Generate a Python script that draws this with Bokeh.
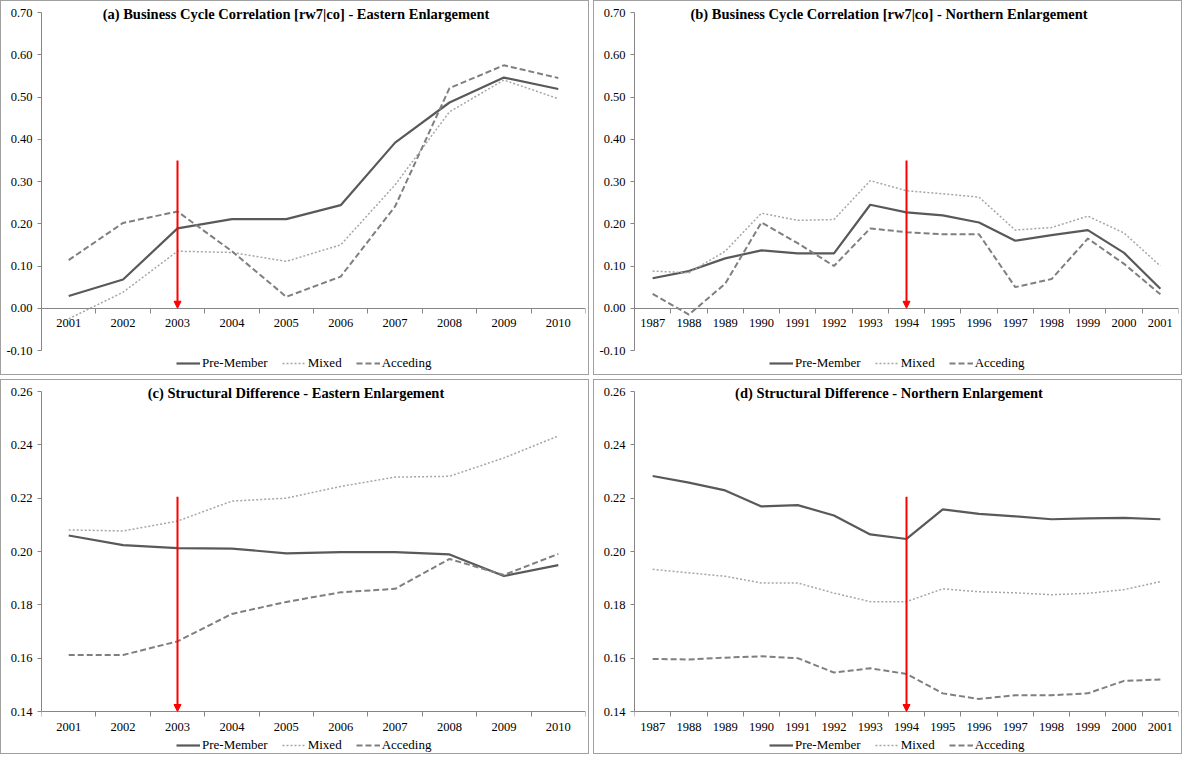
from bokeh.plotting import figure
from bokeh.models import (Range1d, FixedTicker, NumeralTickFormatter, Legend, LegendItem,
                          Label, Arrow, NormalHead, InlineStyleSheet)
from bokeh.layouts import row, column
from bokeh.embed import file_html
from bokeh.resources import INLINE

# ---------------- data ----------------
east_years = ["2001", "2002", "2003", "2004", "2005", "2006", "2007", "2008", "2009", "2010"]
north_years = ["1987", "1988", "1989", "1990", "1991", "1992", "1993", "1994",
               "1995", "1996", "1997", "1998", "1999", "2000", "2001"]

# (a) Business cycle correlation - Eastern enlargement
bc_east_pre = [0.029, 0.068, 0.189, 0.211, 0.211, 0.244, 0.392, 0.487, 0.546, 0.519]
bc_east_mixed = [-0.025, 0.038, 0.135, 0.132, 0.111, 0.150, 0.292, 0.465, 0.540, 0.496]
bc_east_acc = [0.114, 0.202, 0.229, 0.135, 0.027, 0.075, 0.241, 0.521, 0.575, 0.545]

# (b) Business cycle correlation - Northern enlargement
bc_north_pre = [0.071, 0.088, 0.118, 0.137, 0.130, 0.130, 0.245, 0.227, 0.220, 0.203,
                0.160, 0.173, 0.185, 0.131, 0.046]
bc_north_mixed = [0.088, 0.084, 0.135, 0.225, 0.208, 0.210, 0.302, 0.278, 0.271, 0.263,
                  0.185, 0.191, 0.218, 0.178, 0.100]
bc_north_acc = [0.034, -0.015, 0.058, 0.203, 0.154, 0.100, 0.189, 0.180, 0.175, 0.175,
                0.050, 0.069, 0.165, 0.105, 0.033]

# (c) Structural difference - Eastern enlargement
sd_east_pre = [0.2060, 0.2024, 0.2013, 0.2011, 0.1993, 0.1998, 0.1998, 0.1989, 0.1908, 0.1949]
sd_east_mixed = [0.2081, 0.2077, 0.2114, 0.2189, 0.2200, 0.2244, 0.2279, 0.2282, 0.2351, 0.2433]
sd_east_acc = [0.1612, 0.1612, 0.1663, 0.1766, 0.1811, 0.1847, 0.1860, 0.1972, 0.1912, 0.1991]

# (d) Structural difference - Northern enlargement
sd_north_pre = [0.2283, 0.2258, 0.2229, 0.2169, 0.2174, 0.2135, 0.2064, 0.2047, 0.2158,
                0.2141, 0.2132, 0.2121, 0.2124, 0.2126, 0.2121]
sd_north_mixed = [0.1933, 0.1920, 0.1907, 0.1882, 0.1882, 0.1844, 0.1812, 0.1812, 0.1860,
                  0.1849, 0.1845, 0.1838, 0.1843, 0.1857, 0.1887]
sd_north_acc = [0.1597, 0.1595, 0.1602, 0.1607, 0.1600, 0.1546, 0.1562, 0.1541, 0.1468,
                0.1447, 0.1461, 0.1461, 0.1468, 0.1515, 0.1520]

bc_ticks = [-0.10, 0.00, 0.10, 0.20, 0.30, 0.40, 0.50, 0.60, 0.70]
sd_ticks = [0.14, 0.16, 0.18, 0.20, 0.22, 0.24, 0.26]

series_names = ["Pre-Member", "Mixed", "Acceding"]
titles = [
    "(a) Business Cycle Correlation [rw7|co] - Eastern Enlargement",
    "(b) Business Cycle Correlation [rw7|co] - Northern Enlargement",
    "(c) Structural Difference - Eastern Enlargement",
    "(d) Structural Difference - Northern Enlargement",
]
event_years = ["2003", "1994"]
arrow_top_bc = 0.35
arrow_top_sd = 0.2205

# ---------------- style ----------------
W, H = 589, 375
L, R, T = 40, 5, 3
PAD_TOP = 8
FONT = "Liberation Serif"
AXIS_GREY = "#868686"
styles = [
    dict(line_color="#595959", line_width=2.2, line_dash="solid"),
    dict(line_color="#a6a6a6", line_width=1.5, line_dash="2 2"),
    dict(line_color="#7f7f7f", line_width=2.0, line_dash="6 3"),
]


def make_panel(title, years, series, yticks, event_year, arrow_top, axis_at, pad_px, leg_y):
    n = len(years)
    xs = list(range(n))
    y0, y1 = yticks[0], yticks[-1]
    # extend the frame beyond the tick span so that title and legend fit inside it
    upp = (y1 - y0) / (H - T - pad_px - PAD_TOP)
    p = figure(width=W, height=H, output_backend="svg", toolbar_location=None,
               x_range=Range1d(-0.5, n - 0.5),
               y_range=Range1d(y0 - pad_px * upp, y1 + PAD_TOP * upp),
               min_border_left=L, min_border_right=R, min_border_top=T,
               min_border_bottom=0, outline_line_color=None,
               background_fill_color="white", border_fill_color="white")
    p.stylesheets = [InlineStyleSheet(css=":host { border: 1px solid #a0a0a0; }")]
    p.grid.visible = False

    # y axis
    ya = p.yaxis[0]
    ya.ticker = FixedTicker(ticks=yticks)
    ya.bounds = (y0, y1)
    ya.formatter = NumeralTickFormatter(format="0.00")
    ya.axis_line_color = AXIS_GREY
    ya.major_tick_line_color = AXIS_GREY
    ya.major_tick_out = 4
    ya.major_tick_in = 0
    ya.minor_tick_line_color = None
    ya.major_label_text_font = FONT
    ya.major_label_text_font_size = "12.5px"
    ya.major_label_text_color = "#000000"
    ya.major_label_standoff = 5

    # x axis: labels at category centres, ticks at category boundaries
    xa = p.xaxis[0]
    xa.ticker = FixedTicker(ticks=xs, minor_ticks=[i - 0.5 for i in range(n + 1)])
    xa.major_label_overrides = {i: y for i, y in enumerate(years)}
    xa.axis_line_color = AXIS_GREY
    xa.major_tick_line_color = None
    xa.major_tick_out = 5
    xa.major_tick_in = 0
    xa.minor_tick_line_color = AXIS_GREY
    xa.minor_tick_out = 5
    xa.minor_tick_in = 0
    xa.major_label_text_font = FONT
    xa.major_label_text_font_size = "12.5px"
    xa.major_label_text_color = "#000000"
    xa.major_label_standoff = 6
    xa.fixed_location = axis_at

    renderers = []
    for vals, st in zip(series, styles):
        r = p.line(xs, vals, **st)
        renderers.append(r)

    ev = years.index(event_year)
    p.add_layout(Arrow(x_start=ev, y_start=arrow_top, x_end=ev, y_end=axis_at,
                       line_color="#ff0000", line_width=2,
                       end=NormalHead(size=7, fill_color="#ff0000", line_color="#ff0000")))

    p.add_layout(Label(x=(n - 1) / 2, y=y1, text=title, text_font=FONT,
                       text_font_style="bold", text_font_size="14.5px", text_color="#000000",
                       text_align="center", text_baseline="middle",
                       x_offset=(R - L) / 2, y_offset=-1))

    items = [LegendItem(label=nm, renderers=[r]) for nm, r in zip(series_names, renderers)]
    legend = Legend(items=items, orientation="horizontal", location=(135, leg_y),
                    label_text_font=FONT, label_text_font_size="13px", label_text_color="#000000",
                    glyph_width=24, glyph_height=12, label_height=12, label_standoff=2,
                    spacing=14, padding=0, margin=0,
                    background_fill_alpha=0, border_line_color=None)
    p.add_layout(legend)
    return p


pa = make_panel(titles[0], east_years, [bc_east_pre, bc_east_mixed, bc_east_acc],
                bc_ticks, event_years[0], arrow_top_bc, 0.0, 26, 5)
pb = make_panel(titles[1], north_years, [bc_north_pre, bc_north_mixed, bc_north_acc],
                bc_ticks, event_years[1], arrow_top_bc, 0.0, 26, 5)
pc = make_panel(titles[2], east_years, [sd_east_pre, sd_east_mixed, sd_east_acc],
                sd_ticks, event_years[0], arrow_top_sd, sd_ticks[0], 44, 2)
pd = make_panel(titles[3], north_years, [sd_north_pre, sd_north_mixed, sd_north_acc],
                sd_ticks, event_years[1], arrow_top_sd, sd_ticks[0], 44, 2)

layout = column(row(pa, pb, spacing=4), row(pc, pd, spacing=4), spacing=4)

with open("out.html", "w") as f:
    f.write(file_html(layout, INLINE))
